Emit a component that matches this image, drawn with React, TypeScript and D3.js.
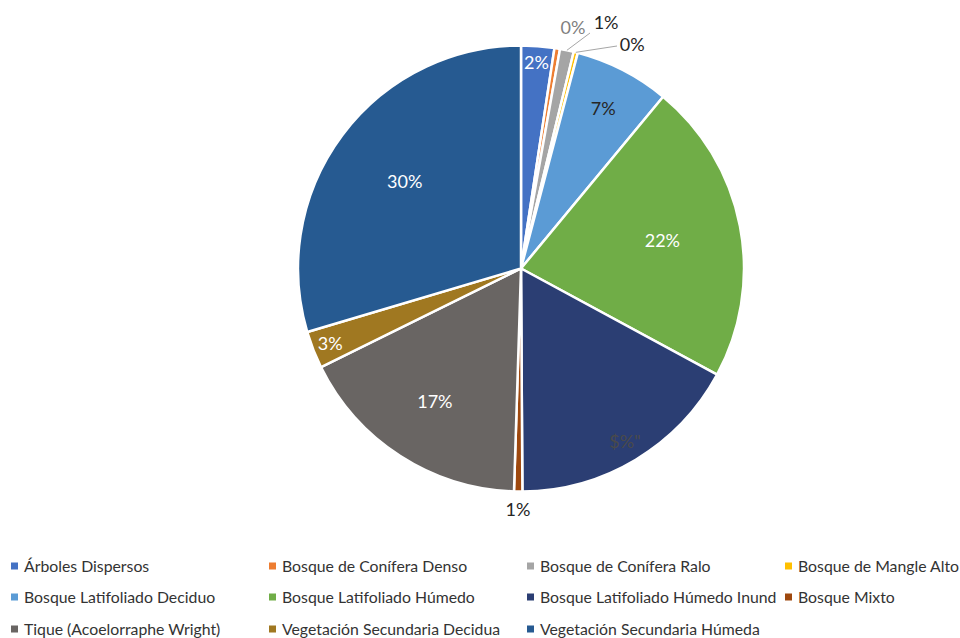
import React from "react";
import * as d3 from "d3";

const categories = [
  "Árboles Dispersos",
  "Bosque de Conífera Denso",
  "Bosque de Conífera Ralo",
  "Bosque de Mangle Alto",
  "Bosque Latifoliado Deciduo",
  "Bosque Latifoliado Húmedo",
  "Bosque Latifoliado Húmedo Inund",
  "Bosque Mixto",
  "Tique (Acoelorraphe Wright)",
  "Vegetación Secundaria Decidua",
  "Vegetación Secundaria Húmeda",
];
const values = [2.4, 0.4, 1.0, 0.3, 6.9, 21.9, 17.0, 0.6, 17.2, 2.7, 29.6];
const labels = ["2%", "0%", "1%", "0%", "7%", "22%", "$%\"", "1%", "17%", "3%", "30%"];
const colors = [
  "#4472C4", "#ED7D31", "#A5A5A5", "#FFC000", "#5B9BD5", "#70AD47",
  "#2B3E73", "#9E480E", "#696563", "#A07821", "#265A91",
];
const labelColors = [
  "#ffffff", "#7f7f7f", "#262626", "#262626", "#262626", "#ffffff",
  "#4a4a4a", "#262626", "#ffffff", "#ffffff", "#ffffff",
];
// label placement: [angle in degrees from 12 o'clock, radius in px]
const labelPlace: [number, number][] = [
  [4.3, 206], [12.2, 246], [19.1, 260], [26.4, 250], [27.2, 180], [79, 144],
  [149, 202], [180.7, 241], [212.8, 159], [248.6, 205], [306.7, 145],
];
const leaders: ([number, number] | null)[] = [
  null, null, [590, 33], [617, 46], null, null, null, null, null, null, null,
];

export default function App() {
  const W = 960, H = 638;
  const cx = 521, cy = 268.5, R = 223;
  const pie = d3.pie<number>().sort(null).value((d) => d)(values);
  const arc = d3.arc<d3.PieArcDatum<number>>().innerRadius(0).outerRadius(R);
  const font = "Lato, 'Open Sans', sans-serif";
  const colX = [14, 272, 530, 788];
  const rowY = [566, 597, 629];
  return (
    <svg width={W} height={H} style={{ position: "absolute", left: 0, top: 0 }}>
      <rect width={W} height={H} fill="#fff" />
      <g transform={`translate(${cx},${cy})`}>
        {pie.map((p, i) => (
          <path key={i} d={arc(p) || ""} fill={colors[i]} stroke="#fff" strokeWidth={2.5} strokeLinejoin="round" />
        ))}
      </g>
      {pie.map((p, i) => {
        const lp = leaders[i];
        if (!lp) return null;
        const mid = (p.startAngle + p.endAngle) / 2;
        const x0 = cx + R * Math.sin(mid);
        const y0 = cy - R * Math.cos(mid);
        return <line key={"l" + i} x1={x0} y1={y0} x2={lp[0]} y2={lp[1]} stroke="#A6A6A6" strokeWidth={1} />;
      })}
      {pie.map((p, i) => {
        const pl = labelPlace[i];
        const a = (pl[0] * Math.PI) / 180;
        const x = cx + pl[1] * Math.sin(a);
        const y = cy - pl[1] * Math.cos(a);
        return (
          <text key={"t" + i} x={x} y={y} dy="0.35em" textAnchor="middle" fontFamily={font}
            fontSize={18} fill={labelColors[i]}>
            {labels[i]}
          </text>
        );
      })}
      {categories.map((c, i) => {
        const col = i % 4, row = Math.floor(i / 4);
        const x = colX[col], y = rowY[row];
        return (
          <g key={"g" + i}>
            <rect x={x - 3} y={y - 3.5} width={7} height={7} fill={colors[i]} />
            <text x={x + 10} y={y} dy="0.35em" fontFamily={font} fontSize={15.8} fill="#333333">{c}</text>
          </g>
        );
      })}
    </svg>
  );
}
